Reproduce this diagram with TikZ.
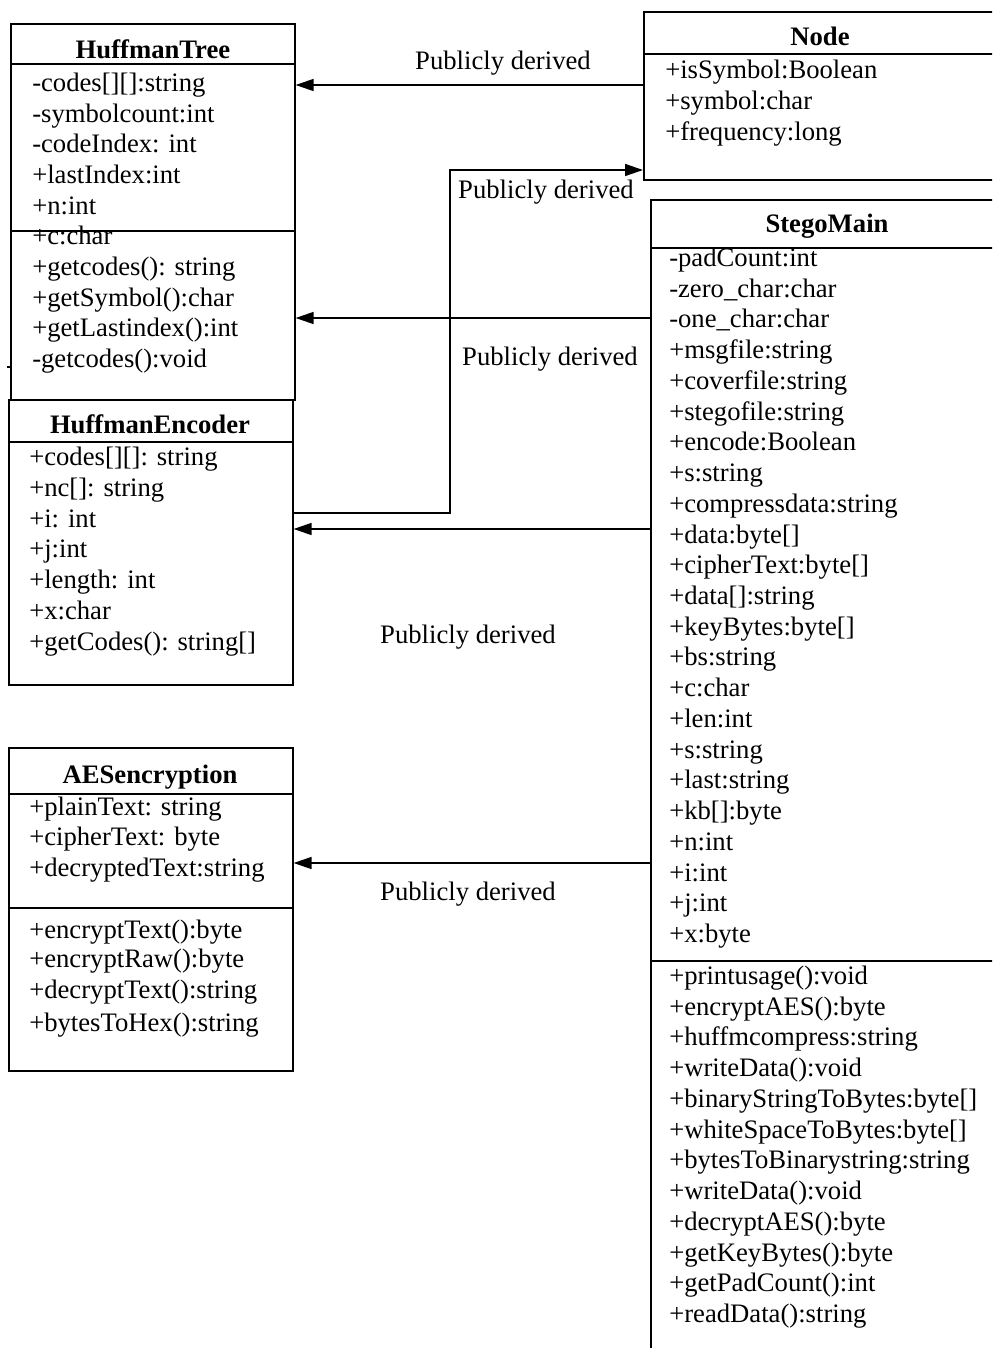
\documentclass[tikz,border=0pt]{standalone}
\usepackage{fontspec}
\setmainfont{Liberation Serif}
\usetikzlibrary{arrows.meta,positioning}
\tikzset{
  classbox/.style={draw, line width=1.2pt, anchor=north west, inner sep=0pt},
  classname/.style={anchor=base, inner sep=0pt, font=\fontsize{20}{23}\selectfont\bfseries},
  member/.style={anchor=base west, inner sep=0pt, font=\fontsize{20}{23}\selectfont},
  derived/.style={anchor=base, inner sep=0pt, font=\fontsize{20}{23}\selectfont},
  inherit/.style={-{Triangle[length=13.5pt,width=9pt]}, line width=1.1pt},
}
\begin{document}
\begin{tikzpicture}[x=0.75pt, y=-0.75pt]
    \useasboundingbox (0,0) rectangle (992,1348);
    \clip (0,0) rectangle (992,1348);
    % class boxes
    \node[classbox, minimum width=213pt, minimum height=282pt] (tree) at (10,23) {};
    \node[classbox, minimum width=213pt, minimum height=213.75pt] (encoder) at (8,399) {};
    \node[classbox, minimum width=213pt, minimum height=242.25pt] (aes) at (8,747) {};
    \node[classbox, minimum width=270pt, minimum height=126pt] (node) at (643,11) {};
    \node[classbox, minimum width=262.5pt, minimum height=880pt] (stego) at (650,199) {};
    % compartments
    \draw[line width=1.2pt] (tree.west |- 0,64) -- (tree.east |- 0,64);
    \draw[line width=1.2pt] (tree.west |- 0,231) -- (tree.east |- 0,231);
    \draw[line width=1.2pt] (encoder.west |- 0,442) -- (encoder.east |- 0,442);
    \draw[line width=1.2pt] (aes.west |- 0,794) -- (aes.east |- 0,794);
    \draw[line width=1.2pt] (aes.west |- 0,908) -- (aes.east |- 0,908);
    \draw[line width=1.2pt] (node.west |- 0,54) -- (node.east |- 0,54);
    \draw[line width=1.2pt] (stego.west |- 0,248) -- (stego.east |- 0,248);
    \draw[line width=1.2pt] (stego.west |- 0,961) -- (stego.east |- 0,961);
    \draw[line width=1pt] (tree.west |- 0,367) -- ++(-3,0);
    % class names
    \node[classname] (tree-name) at (153,59) {HuffmanTree};
    \node[classname] (encoder-name) at (150,433) {HuffmanEncoder};
    \node[classname] (aes-name) at (150,783) {AESencryption};
    \node[classname] (node-name) at (820,46) {Node};
    \node[classname] (stego-name) at (827,233) {StegoMain};
    % members
    \foreach \m [count=\k from 0] in {-codes[][]:string, -symbolcount:int, -codeIndex: int,
        +lastIndex:int, +n:int, +c:char, +getcodes(): string, +getSymbol():char,
        +getLastindex():int, -getcodes():void}
      \node[member] (tree-m\k) at (32,91.5+30.65*\k) {\m};
    \foreach \m [count=\k from 0] in {+codes[][]: string, +nc[]: string, +i: int, +j:int,
        +length: int, +x:char, +getCodes(): string[]}
      \node[member] (encoder-m\k) at (29,465.5+30.8*\k) {\m};
    \foreach \m/\y [count=\k from 0] in {+plainText: string/815.5, +cipherText: byte/845.5,
        +decryptedText:string/876.5, +encryptText():byte/938.5, +encryptRaw():byte/967.5,
        +decryptText():string/998, +bytesToHex():string/1031}
      \node[member] (aes-m\k) at (29,\y) {\m};
    \foreach \m [count=\k from 0] in {+isSymbol:Boolean, +symbol:char, +frequency:long}
      \node[member] (node-m\k) at (665,78.5+31*\k) {\m};
    \foreach \m [count=\k from 0] in {-padCount:int, -zero\_char:char, -one\_char:char,
        +msgfile:string, +coverfile:string, +stegofile:string, +encode:Boolean, +s:string,
        +compressdata:string, +data:byte[], +cipherText:byte[], +data[]:string,
        +keyBytes:byte[], +bs:string, +c:char, +len:int, +s:string, +last:string,
        +kb[]:byte, +n:int, +i:int, +j:int, +x:byte}
      \node[member] (stego-a\k) at (669,266.5+30.73*\k) {\m};
    \foreach \m [count=\k from 0] in {+printusage():void, +encryptAES():byte,
        +huffmcompress:string, +writeData():void, +binaryStringToBytes:byte[],
        +whiteSpaceToBytes:byte[], +bytesToBinarystring:string, +writeData():void,
        +decryptAES():byte, +getKeyBytes():byte, +getPadCount():int, +readData():string}
      \node[member] (stego-o\k) at (669,984.5+30.73*\k) {\m};
    % connectors
    \coordinate (lvlA) at (0,85);
    \coordinate (lvlB) at (0,170);
    \coordinate (lvlC) at (0,513);
    \coordinate (bend) at (450,0);
    \coordinate (lvlD) at (0,318);
    \coordinate (lvlE) at (0,529);
    \coordinate (lvlF) at (0,863);
    \draw[inherit] (node.west |- lvlA) -- (tree.east |- lvlA);
    \draw[inherit] (encoder.east |- lvlC) -- (bend |- lvlC) -- (bend |- lvlB) -- (node.west |- lvlB);
    \draw[inherit] (stego.west |- lvlD) -- (tree.east |- lvlD);
    \draw[inherit] (stego.west |- lvlE) -- (encoder.east |- lvlE);
    \draw[inherit] (stego.west |- lvlF) -- (aes.east |- lvlF);
    % labels
    \node[derived] (lab1) at (503,70) {Publicly derived};
    \node[derived] (lab2) at (546,199) {Publicly derived};
    \node[derived] (lab3) at (550,365) {Publicly derived};
    \node[derived] (lab4) at (468,643) {Publicly derived};
    \node[derived] (lab5) at (468,900) {Publicly derived};
  \end{tikzpicture}
\end{document}
